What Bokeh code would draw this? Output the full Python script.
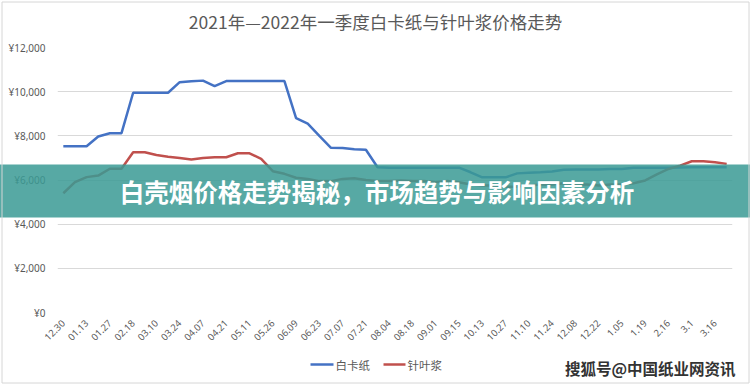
from math import pi
from bokeh.plotting import figure
from bokeh.models import ColumnDataSource, FixedTicker, Range1d
from bokeh.core.properties import value
from bokeh.embed import file_html
from bokeh.resources import INLINE

# ---------------- data ----------------
dates = ["12.30", "01.06", "01.13", "01.20", "01.27", "02.03", "02.18", "03.03",
         "03.10", "03.17", "03.24", "03.31", "04.07", "04.14", "04.21", "04.28",
         "05.11", "05.19", "05.26", "06.02", "06.09", "06.16", "06.23", "06.30",
         "07.07", "07.14", "07.21", "07.28", "08.04", "08.11", "08.18", "08.25",
         "09.01", "09.08", "09.15", "09.22", "10.13", "10.20", "10.27", "11.03",
         "11.10", "11.17", "11.24", "12.01", "12.08", "12.15", "12.22", "12.29",
         "1.05", "1.12", "1.19", "1.26", "2.16", "2.23", "3.1", "3.9", "3.16", "3.23"]

baika = [7530, 7530, 7530, 7970, 8120, 8120, 9950, 9950,
         9950, 9950, 10430, 10470, 10500, 10250, 10480, 10480,
         10480, 10480, 10480, 10480, 8800, 8550, 8000, 7460,
         7450, 7390, 7370, 6580, 6560, 6560, 6560, 6560,
         6560, 6560, 6560, 6350, 6120, 6120, 6120, 6300,
         6330, 6350, 6380, 6460, 6480, 6480, 6480, 6500,
         6500, 6550, 6550, 6550, 6560, 6570, 6580, 6580, 6580, 6580]

zhenye = [5400, 5900, 6130, 6200, 6510, 6510, 7260, 7260,
          7130, 7050, 7000, 6930, 7000, 7030, 7030, 7210,
          7210, 6960, 6400, 6280, 6100, 6050, 5950, 5950,
          6050, 6080, 6000, 5950, 5950, 5980, 5950, 5950,
          5900, 5950, 5900, 5800, 5750, 5750, 5700, 5700,
          5750, 5800, 5800, 5850, 5800, 5800, 5750, 5800,
          5800, 5850, 5980, 6250, 6500, 6650, 6850, 6850, 6800, 6730]

series_names = ["白卡纸", "针叶浆"]
series_colors = ["#4472C4", "#C0504D"]
y_ticks = [0, 2000, 4000, 6000, 8000, 10000, 12000]
y_labels = ["¥0", "¥2,000", "¥4,000", "¥6,000", "¥8,000", "¥10,000", "¥12,000"]
title_text = "2021年—2022年一季度白卡纸与针叶浆价格走势"
banner_text = "白壳烟价格走势揭秘，市场趋势与影响因素分析"
watermark_text = "搜狐号@中国纸业网资讯"

# ---------------- layout (pixels) ----------------
W, H = 750, 384
FL, FR, FT, FB = 57, 732, 47, 312          # frame edges in canvas pixels
X0, X1 = -0.5, len(dates) - 0.5
Y0, Y1 = 0, 12000


def dx(px):
    return X0 + (px - FL) * (X1 - X0) / (FR - FL)


def dy(py):
    return Y0 + (FB - py) * (Y1 - Y0) / (FB - FT)


idx = list(range(len(dates)))
src = ColumnDataSource(dict(x=idx, baika=baika, zhenye=zhenye, d=dates))

CJK = "Noto Sans CJK SC"
GRAY = "#595959"

p = figure(width=W, height=H, output_backend="svg", toolbar_location=None,
           x_range=Range1d(X0, X1), y_range=Range1d(Y0, Y1),
           min_border_left=FL, min_border_right=W - FR, min_border_top=FT,
           min_border_bottom=H - FB)
p.background_fill_color = "white"
p.border_fill_color = "white"
p.outline_line_color = None
p.title.text = ""

# lines
r1 = p.line("x", "baika", source=src, line_color=series_colors[0], line_width=2.5)
r2 = p.line("x", "zhenye", source=src, line_color=series_colors[1], line_width=2.5)

# axes
p.yaxis.ticker = FixedTicker(ticks=y_ticks)
p.yaxis.major_label_overrides = {t: l for t, l in zip(y_ticks, y_labels)}
p.yaxis.axis_line_color = None
p.yaxis.major_tick_line_color = None
p.yaxis.major_tick_out = 0
p.yaxis.minor_tick_line_color = None
p.yaxis.major_label_text_font = "Noto Sans"
p.yaxis.major_label_text_font_size = "10px"
p.yaxis.major_label_text_color = GRAY
p.yaxis.major_label_standoff = 12

x_ticks = idx[::2]
p.xaxis.ticker = FixedTicker(ticks=x_ticks)
p.xaxis.major_label_overrides = {i: dates[i] for i in x_ticks}
p.xaxis.axis_line_color = None
p.xaxis.major_tick_line_color = None
p.xaxis.major_tick_out = 0
p.xaxis.minor_tick_line_color = None
p.xaxis.major_label_orientation = pi / 4
p.xaxis.major_label_text_font = "Noto Sans"
p.xaxis.major_label_text_font_size = "9.5px"
p.xaxis.major_label_text_color = GRAY
p.xaxis.major_label_standoff = 9

p.xgrid.visible = False
p.ygrid.ticker = FixedTicker(ticks=y_ticks)
p.ygrid.grid_line_color = "#d9d9d9"
p.ygrid.grid_line_width = 1

# legend (drawn as overlay marks below the axis)
leg_y = dy(364)
for (x0, x1, tx), name, col in zip([(310, 333, 335), (383, 405, 407)],
                                    series_names, series_colors):
    p.segment(x0=[dx(x0)], y0=[leg_y], x1=[dx(x1)], y1=[leg_y],
              line_color=col, line_width=2.5, level="overlay")
    p.text(x=[dx(tx)], y=[leg_y], text=[name], text_align="left",
           text_baseline="middle", text_font=value(CJK),
           text_font_size="11.5px", text_color=GRAY, level="overlay")

# title (overlay text so it can sit off the frame centre)
p.text(x=[dx(375)], y=[dy(21)], text=[title_text], text_align="center",
       text_baseline="middle", text_font=value(CJK), text_font_size="17.5px",
       text_color=GRAY, level="overlay")

# banner overlay across the whole picture
p.quad(left=[dx(-5)], right=[dx(W + 5)], top=[dy(164)], bottom=[dy(217)],
       fill_color="#3A9A94", fill_alpha=0.85, line_color=None, level="overlay")
p.text(x=[dx(376.5)], y=[dy(191)], text=[banner_text], text_align="center",
       text_baseline="middle", text_font=value(CJK), text_font_size="24.5px",
       text_font_style="bold", text_color="white", level="overlay")

# watermark
p.text(x=[dx(735)], y=[dy(367)], text=[watermark_text], text_align="right",
       text_baseline="middle", text_font=value(CJK), text_font_size="15.5px",
       text_font_style="bold", text_color="#333333", level="overlay")

# thin outer border of the picture
p.quad(left=[dx(1.5)], right=[dx(W - 1.5)], top=[dy(1.5)], bottom=[dy(H - 1.5)],
       fill_alpha=0, line_color="#d6d6d6", line_width=1, level="overlay")

open("out.html", "w").write(file_html(p, INLINE))
